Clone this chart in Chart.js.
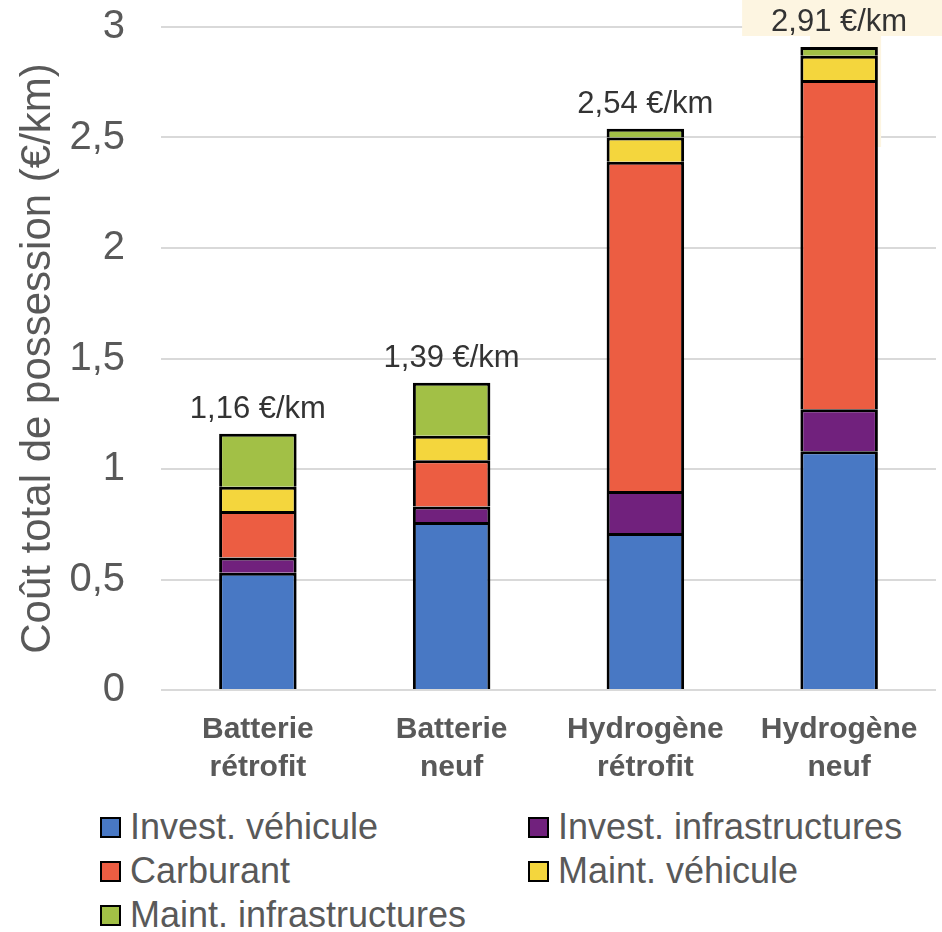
<!DOCTYPE html>
<html lang="fr">
<head>
<meta charset="utf-8">
<title>Coût total de possession</title>
<script src="https://cdn.jsdelivr.net/npm/chart.js@4.4.1/dist/chart.umd.min.js"></script>
<style>
  body { margin: 0; background: #fff; }
  #wrap { position: relative; width: 942px; height: 932px; font-family: "Liberation Sans", Arial, sans-serif; }
  #chartBox { position: absolute; left: 0; top: 0; width: 942px; height: 800px; }
  #legend {
    position: absolute; left: 100px; top: 805px;
    display: grid; grid-template-columns: 428px auto;
    color: #595959; font-size: 36px;
  }
  #legend .item { display: flex; align-items: center; height: 44px; white-space: nowrap; }
  #legend .box { width: 17px; height: 17px; border: 2px solid #000; margin-right: 9px; }
</style>
</head>
<body>
<div id="wrap">
  <div id="chartBox"><canvas id="tcoChart"></canvas></div>
  <div id="legend"></div>
</div>
<script>
const categories = [
  ['Batterie', 'rétrofit'],
  ['Batterie', 'neuf'],
  ['Hydrogène', 'rétrofit'],
  ['Hydrogène', 'neuf']
]

// cost breakdown per category, in €/km
const investVehicule = [0.53, 0.76, 0.71, 1.08]
const investInfra = [0.07, 0.07, 0.19, 0.19]
const carburant = [0.21, 0.21, 1.49, 1.49]
const maintVehicule = [0.11, 0.11, 0.11, 0.11]
const maintInfra = [0.24, 0.24, 0.04, 0.04]

const seriesNames = ['Invest. véhicule', 'Invest. infrastructures', 'Carburant', 'Maint. véhicule', 'Maint. infrastructures']
const seriesColors = ['#4878c4', '#71217d', '#ec5d42', '#f4d63d', '#a2c046']
const seriesValues = [investVehicule, investInfra, carburant, maintVehicule, maintInfra]

const yTicks = [0, 0.5, 1, 1.5, 2, 2.5, 3]

const FONT = '"Liberation Sans", Arial, sans-serif'
const fmt = (v) => String(v).replace('.', ',')

// totals written above each stack, plus the pale highlight behind the last one
const totalLabels = {
  id: 'totalLabels',
  beforeDatasetsDraw(chart) {
    const { ctx } = chart
    const last = chart.getDatasetMeta(seriesValues.length - 1).data
    const bar = last[last.length - 1]
    ctx.save()
    ctx.fillStyle = '#fdf5e1'
    ctx.fillRect(bar.x - 97, 0, chart.width - (bar.x - 97), 36)
    ctx.fillRect(bar.x - 29, 36, 71, 111)
    ctx.restore()
  },
  afterDatasetsDraw(chart) {
    const { ctx } = chart
    const top = chart.getDatasetMeta(seriesValues.length - 1).data
    ctx.save()
    ctx.font = '31px ' + FONT
    ctx.fillStyle = '#333333'
    ctx.textAlign = 'center'
    ctx.textBaseline = 'alphabetic'
    categories.forEach((c, i) => {
      const total = seriesValues.reduce((s, arr) => s + arr[i], 0)
      ctx.fillText(fmt(total.toFixed(2)) + ' €/km', top[i].x, top[i].y - 16)
    })
    ctx.restore()
  }
}

const ctx = document.getElementById('tcoChart').getContext('2d')

const chart = new Chart(ctx, {
  type: 'bar',
  data: {
    labels: categories,
    datasets: seriesNames.map((name, k) => ({
      label: name,
      data: seriesValues[k],
      backgroundColor: seriesColors[k],
      borderColor: '#000000',
      borderWidth: 3,
      categoryPercentage: 1,
      barPercentage: 0.4
    }))
  },
  options: {
    responsive: true,
    maintainAspectRatio: false,
    animation: false,
    layout: { padding: { top: 27, right: 6, bottom: 0, left: 0 } },
    plugins: {
      legend: { display: false },
      tooltip: { enabled: false }
    },
    scales: {
      x: {
        stacked: true,
        grid: { display: false, drawTicks: false },
        border: { display: false },
        ticks: {
          color: '#595959',
          padding: 21,
          font: { family: FONT, size: 30, weight: 'bold', lineHeight: 1.27 }
        },
        afterFit(scale) {
          scale.height = 110
          scale.paddingLeft = 0
          scale.paddingRight = 0
        }
      },
      y: {
        stacked: true,
        min: 0,
        max: 3,
        afterBuildTicks(scale) { scale.ticks = yTicks.map((v) => ({ value: v })) },
        grid: { color: '#d9d9d9', lineWidth: 2, drawTicks: false },
        border: { display: false },
        ticks: {
          color: '#595959',
          padding: 36,
          font: { family: FONT, size: 40 },
          callback: (v) => fmt(v)
        },
        title: {
          display: true,
          text: 'Coût total de possession (€/km)',
          color: '#595959',
          padding: { top: 13, bottom: 0 },
          font: { family: FONT, size: 42, lineHeight: 1.2 }
        },
        afterFit(scale) {
          scale.width = 161
          scale.paddingTop = 0
          scale.paddingBottom = 0
        }
      }
    }
  },
  plugins: [totalLabels]
})

// two-column legend under the chart
const legendEl = document.getElementById('legend')
chart.data.datasets.forEach((ds) => {
  const item = document.createElement('div')
  item.className = 'item'
  const box = document.createElement('span')
  box.className = 'box'
  box.style.background = ds.backgroundColor
  item.appendChild(box)
  item.appendChild(document.createTextNode(ds.label))
  legendEl.appendChild(item)
})
</script>
</body>
</html>
